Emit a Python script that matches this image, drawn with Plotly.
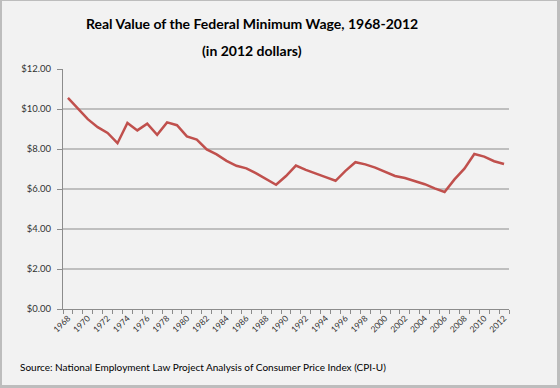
import plotly.graph_objects as go

years = list(range(1968, 2013))
wage = [10.56, 10.03, 9.49, 9.09, 8.80, 8.29, 9.30, 8.93, 9.27, 8.71,
        9.33, 9.19, 8.63, 8.47, 7.98, 7.73, 7.41, 7.16, 7.03, 6.78,
        6.51, 6.21, 6.65, 7.17, 6.96, 6.76, 6.59, 6.41, 6.91, 7.34,
        7.23, 7.07, 6.84, 6.65, 6.55, 6.40, 6.24, 6.03, 5.85, 6.48,
        7.02, 7.75, 7.62, 7.39, 7.25]
x_tick_years = list(range(1968, 2013, 2))
y_ticks = [0, 2, 4, 6, 8, 10, 12]
y_tick_labels = ["$%.2f" % v for v in y_ticks]

W, H = 560, 388
L, R, T, B = 63, 51, 69, 79
pw, ph = W - L - R, H - T - B

def px_x(px):
    return (px - L) / pw

def px_y(py):
    return (H - B - py) / ph

FONT = "Lato"
TXT = "#333333"

fig = go.Figure()
fig.add_trace(go.Scatter(
    x=years, y=wage, mode="lines",
    line=dict(color="#C0504D", width=2.5),
    hoverinfo="skip", showlegend=False,
))

fig.update_layout(
    width=W, height=H,
    margin=dict(l=L, r=R, t=T, b=B, autoexpand=False),
    paper_bgcolor="#bdbdbd",
    plot_bgcolor="#f2f2f2",
    font=dict(family=FONT, size=10, color=TXT),
    showlegend=False,
    xaxis=dict(
        range=[1967.5, 2012.5],
        tickvals=x_tick_years,
        ticktext=[str(y) for y in x_tick_years],
        tickangle=-45,
        tickfont=dict(size=8.5, color=TXT),
        ticks="",
        showgrid=False,
        zeroline=False,
        showline=True, linecolor="#8c8c8c", linewidth=1,
        minor=dict(tick0=1967.5, dtick=1, ticks="outside", ticklen=4,
                   tickcolor="#8c8c8c", tickwidth=1, showgrid=False),
        fixedrange=True,
    ),
    yaxis=dict(
        range=[0, 12],
        tickvals=y_ticks,
        ticktext=y_tick_labels,
        tickfont=dict(size=9.5, color=TXT),
        ticks="outside", ticklen=5, tickcolor="#8c8c8c", tickwidth=1,
        ticklabelstandoff=4,
        showgrid=True, gridcolor="#bfbfbf", gridwidth=1.5,
        zeroline=False,
        showline=True, linecolor="#8c8c8c", linewidth=1,
        fixedrange=True,
    ),
    shapes=[dict(
        type="rect", xref="paper", yref="paper", layer="below",
        x0=px_x(2), x1=px_x(557), y0=px_y(385), y1=px_y(1),
        fillcolor="#f2f2f2", line=dict(width=0),
    )],
    annotations=[
        dict(text="<b>Real Value of the Federal Minimum Wage, 1968-2012</b>",
             x=px_x(252), y=px_y(23), xref="paper", yref="paper",
             xanchor="center", yanchor="middle", showarrow=False,
             font=dict(family=FONT, size=14, color="#000000")),
        dict(text="<b>(in 2012 dollars)</b>",
             x=px_x(252), y=px_y(50), xref="paper", yref="paper",
             xanchor="center", yanchor="middle", showarrow=False,
             font=dict(family=FONT, size=14, color="#000000")),
        dict(text="Source: National Employment Law Project Analysis of Consumer Price Index (CPI-U)",
             x=px_x(18), y=px_y(367), xref="paper", yref="paper",
             xanchor="left", yanchor="middle", showarrow=False,
             font=dict(family=FONT, size=10, color="#000000")),
    ],
)

fig.write_html("out.html", config={"displayModeBar": False},
               post_script="document.body.style.margin='0';")
